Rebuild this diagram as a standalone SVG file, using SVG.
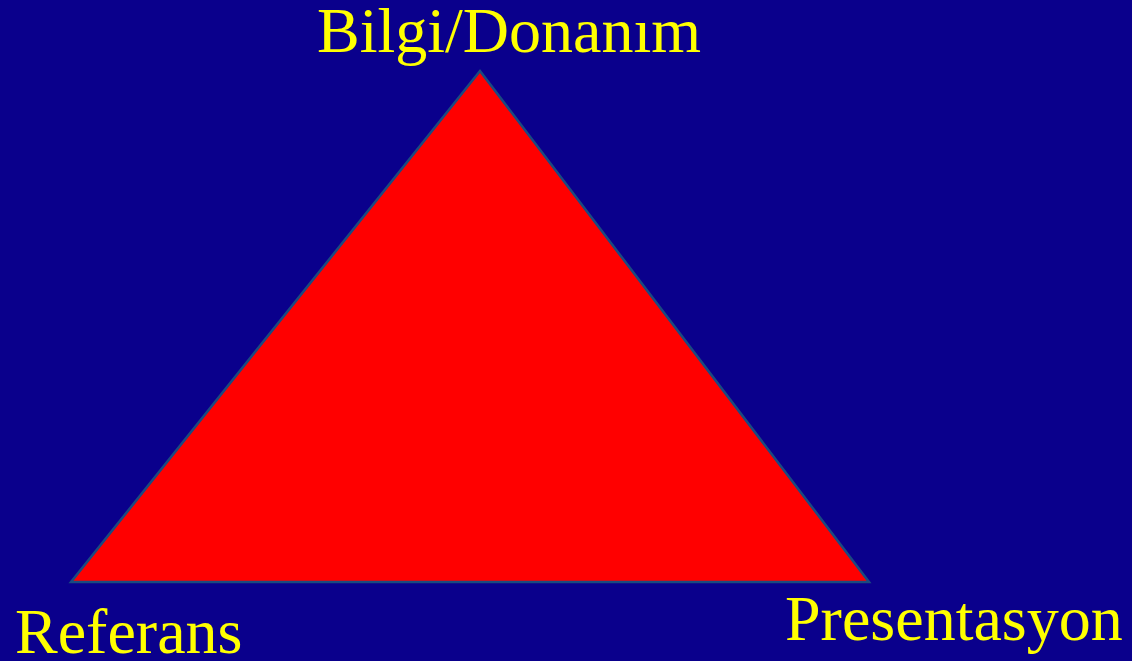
<svg xmlns="http://www.w3.org/2000/svg" width="1132" height="661" viewBox="0 0 1132 661">
<style>
.lbl{font-family:"Liberation Serif","Times New Roman",serif;font-size:64px;fill:#FFFF00}
</style>
<rect width="1132" height="661" fill="#0A008C"/>
<g id="triangle">
<polygon points="480,71 71,582 869,582" fill="#FF0000" stroke="#1A4A80" stroke-width="2.5" stroke-linejoin="miter"/>
</g>
<g id="connectors"></g>
<g id="top"><text class="lbl" x="317" y="52">Bilgi/Donanım</text></g>
<g id="left"><text class="lbl" x="15" y="653">Referans</text></g>
<g id="right"><text class="lbl" x="785" y="640">Presentasyon</text></g>
</svg>
